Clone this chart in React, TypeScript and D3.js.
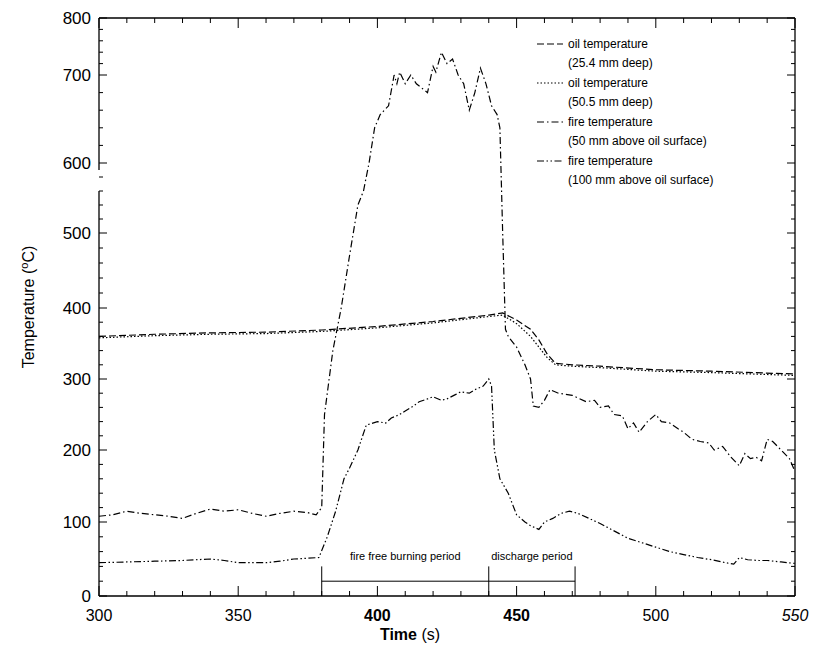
import React from "react";
import * as d3 from "d3";

const oil25: [number, number][] = [[300,360],[320,363],[340,365],[360,366],[380,369],[400,374],[420,381],[440,390],[445,393],[450,383],[455,370],[458,355],[461,335],[464,322],[470,320],[480,318],[500,313],[520,311],[550,307]];
const oil50: [number, number][] = [[300,358],[320,361],[340,363],[360,364],[380,367],[400,372],[420,379],[440,388],[445,390],[450,378],[455,360],[458,345],[461,330],[464,320],[470,318],[480,316],[500,311],[520,309],[550,305]];
const fire50: [number, number][] = [[300,108],[305,110],[310,115],[315,112],[320,110],[325,108],[330,105],[335,112],[340,118],[345,115],[350,117],[355,112],[360,108],[365,112],[370,115],[375,113],[378,110],[380,120],[381,250],[384,340],[387,400],[390,470],[393,540],[395,560],[397,600],[399,640],[401,655],[404,665],[406,700],[407,690],[408,705],[410,690],[412,700],[414,690],[416,685],[418,680],[420,715],[421,705],[423,740],[425,720],[427,728],[429,700],[431,690],[433,660],[435,680],[437,712],[439,690],[441,665],[443,655],[444,640],[445,500],[446,370],[447,360],[450,345],[453,320],[455,300],[456,262],[458,260],[460,270],[462,285],[465,280],[470,277],[475,268],[478,270],[480,260],[483,262],[485,250],[488,248],[490,230],[492,238],[494,225],[497,240],[500,250],[502,240],[505,238],[508,230],[510,225],[513,215],[516,212],[519,210],[521,200],[524,205],[527,190],[530,178],[532,195],[534,188],[536,190],[538,185],[540,215],[542,212],[545,200],[548,188],[550,170]];
const fire100: [number, number][] = [[300,45],[310,46],[320,47],[330,48],[340,50],[345,48],[350,45],[360,45],[365,47],[370,50],[375,51],[379,52],[382,80],[385,115],[388,160],[390,175],[393,200],[396,235],[400,240],[403,238],[405,245],[408,250],[410,255],[413,262],[415,268],[418,272],[420,275],[423,270],[425,272],[428,278],[430,282],[433,280],[435,285],[438,290],[440,300],[441,290],[442,200],[444,160],[447,140],[450,110],[453,100],[455,95],[458,90],[460,100],[463,105],[466,112],[469,115],[472,112],[476,105],[480,98],[485,88],[490,78],[495,72],[500,66],[505,60],[510,56],[515,52],[520,49],[525,45],[528,43],[530,52],[533,49],[537,48],[540,48],[545,46],[550,44]];

const xTicks = [300, 350, 400, 450, 500, 550];
const yTicks = [0, 100, 200, 300, 400, 500, 600, 700, 800];
const legendLabels = [
  ["oil temperature", "(25.4 mm deep)"],
  ["oil temperature", "(50.5 mm deep)"],
  ["fire temperature", "(50 mm above oil surface)"],
  ["fire temperature", "(100 mm above oil surface)"],
];

const L = 99, R = 795, T = 18, B = 596;

export default function App() {
  const x = d3.scaleLinear().domain([300, 550]).range([L, R]);
  const y = d3.scaleLinear().domain(yTicks).range([596, 522, 450, 379, 308, 233, 163, 75, 18]);
  const line = d3.line<[number, number]>().x(d => x(d[0])).y(d => y(d[1]));
  const styles = ["7,3", "1.5,2", "7,3,1.5,3", "7,2.5,1.5,2.5,1.5,2.5"];
  const series = [oil25, oil50, fire50, fire100];
  const font = "'Liberation Sans', Arial, sans-serif";
  const minorX = d3.range(300, 551, 10);
  const minorY = d3.range(0, 801, 20);
  return (
    <svg width={819} height={670} style={{ position: "absolute", left: 0, top: 0 }} fontFamily={font}>
      <rect width={819} height={670} fill="#fff" />
      <line x1={L} x2={R} y1={T} y2={T} stroke="#000" strokeWidth={1.3} />
      <line x1={L} x2={R} y1={B} y2={B} stroke="#000" strokeWidth={1.3} />
      <line x1={R} x2={R} y1={T} y2={B} stroke="#000" strokeWidth={1.3} />
      <line x1={L} x2={L} y1={T} y2={y(590)} stroke="#000" strokeWidth={1.3} />
      <line x1={L} x2={L} y1={y(560)} y2={B} stroke="#000" strokeWidth={1.3} />
      {minorX.map(v => (
        <g key={"mx" + v}>
          <line x1={x(v)} x2={x(v)} y1={B} y2={B - (v % 50 === 0 ? 10 : 5)} stroke="#000" />
          <line x1={x(v)} x2={x(v)} y1={T} y2={T + (v % 50 === 0 ? 10 : 5)} stroke="#000" />
        </g>
      ))}
      {minorY.filter(v => v < 590 || v > 565).map(v => (
        <g key={"my" + v}>
          <line x1={L} x2={L + (v % 100 === 0 ? 8 : 4)} y1={y(v)} y2={y(v)} stroke="#000" />
          <line x1={R} x2={R - (v % 100 === 0 ? 8 : 4)} y1={y(v)} y2={y(v)} stroke="#000" />
        </g>
      ))}
      {xTicks.map(v => (
        <text key={"xt" + v} x={x(v)} y={B + 25} textAnchor="middle" fontSize={16}
          fontWeight={v === 400 || v === 450 ? "bold" : "normal"} fontStyle={v === 550 ? "italic" : "normal"}>{v}</text>
      ))}
      {yTicks.map(v => (
        <text key={"yt" + v} x={L - 8} y={y(v) + 6} textAnchor="end" fontSize={17}>{v}</text>
      ))}
      <text x={410} y={640} textAnchor="middle" fontSize={16}><tspan fontWeight="bold">Time</tspan> (s)</text>
      <text transform="translate(34,307) rotate(-90)" textAnchor="middle" fontSize={16}>Temperature (<tspan dy={-6} fontSize={11}>o</tspan><tspan dy={6}>C)</tspan></text>
      {series.map((s, i) => (
        <path key={"s" + i} d={line(s) || ""} fill="none" stroke="#000" strokeWidth={1.2} strokeDasharray={styles[i]} />
      ))}
      {/* period brackets */}
      <line x1={x(380)} x2={x(471)} y1={y(20)} y2={y(20)} stroke="#000" />
      {[380, 440, 471].map(v => (
        <line key={"br" + v} x1={x(v)} x2={x(v)} y1={y(40)} y2={y(0)} stroke="#000" />
      ))}
      <text x={x(410)} y={y(48)} textAnchor="middle" fontSize={11}>fire free burning period</text>
      <text x={x(455.5)} y={y(48)} textAnchor="middle" fontSize={11}>discharge period</text>
      {legendLabels.map((lab, i) => (
        <g key={"lg" + i}>
          <line x1={537} x2={563} y1={44 + i * 39} y2={44 + i * 39} stroke="#000" strokeWidth={1.2} strokeDasharray={styles[i]} />
          <text x={568} y={48 + i * 39} fontSize={12}>{lab[0]}</text>
          <text x={568} y={67 + i * 39} fontSize={12}>{lab[1]}</text>
        </g>
      ))}
    </svg>
  );
}
